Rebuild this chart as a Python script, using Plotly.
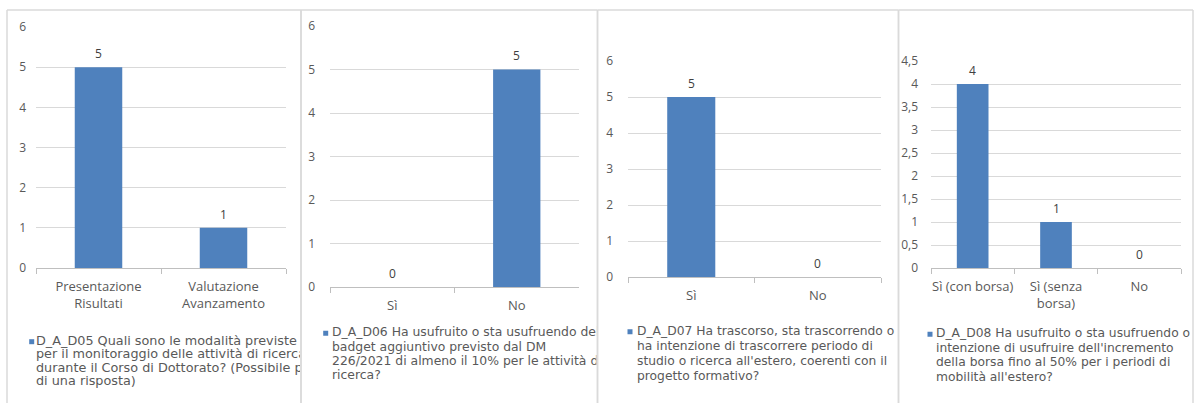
import plotly.graph_objects as go

# ---------------- data ----------------
cats1 = ["Presentazione<br>Risultati", "Valutazione<br>Avanzamento"]
vals1 = [5, 1]
cats2 = ["Sì", "No"]
vals2 = [0, 5]
cats3 = ["Sì", "No"]
vals3 = [5, 0]
cats4 = ["Sì (con borsa)", "Sì (senza<br>borsa)", "No"]
vals4 = [4, 1, 0]

yticks_int = [0, 1, 2, 3, 4, 5, 6]
yticks_int_text = ["0", "1", "2", "3", "4", "5", "6"]
yticks_half = [0, 0.5, 1, 1.5, 2, 2.5, 3, 3.5, 4, 4.5]
yticks_half_text = ["0", "0,5", "1", "1,5", "2", "2,5", "3", "3,5", "4", "4,5"]

series1 = ["D_A_D05 Quali sono le modalità previste",
           "per il monitoraggio delle attività di ricerca",
           "durante il Corso di Dottorato? (Possibile più",
           "di una risposta)"]
series2 = ["D_A_D06 Ha usufruito o sta usufruendo del",
           "badget aggiuntivo previsto dal DM",
           "226/2021 di almeno il 10% per le attività di",
           "ricerca?"]
series3 = ["D_A_D07 Ha trascorso, sta trascorrendo o",
           "ha intenzione di trascorrere periodo di",
           "studio o ricerca all'estero, coerenti con il",
           "progetto formativo?"]
series4 = ["D_A_D08 Ha usufruito o sta usufruendo o",
           "intenzione di usufruire dell'incremento",
           "della borsa fino al 50% per i periodi di",
           "mobilità all'estero?"]

# ---------------- layout (pixels) ----------------
W, H = 1195, 403
BLUE = "#4F81BD"
FONT = "Open Sans"
LFONT = "DejaVu Sans"
GRID = "#D9D9D9"
AXIS = "#BFBFBF"
TXT = "#595959"
LBL = "#404040"
BORDER = "#DADADA"

panels = [
    dict(cats=cats1, vals=vals1, tv=yticks_int, tt=yticks_int_text, ymax=6, series=series1,
         x0=36, x1=286, ytop=27, ybot=268, left=7, right=301, mx=31.7, tx=36,
         ly=[341.7, 355.2, 368.6, 382], ystand=9, lfs=12.8),
    dict(cats=cats2, vals=vals2, tv=yticks_int, tt=yticks_int_text, ymax=6, series=series2,
         x0=330, x1=579, ytop=26, ybot=287, left=301, right=597.5, mx=325.7, tx=332,
         ly=[333.3, 347.7, 361.7, 376], ystand=14, lfs=12.4),
    dict(cats=cats3, vals=vals3, tv=yticks_int, tt=yticks_int_text, ymax=6, series=series3,
         x0=628, x1=881, ytop=61, ybot=277, left=597.5, right=898.5, mx=630, tx=637,
         ly=[331.7, 346.7, 361.7, 376.7], ystand=14, lfs=12.3),
    dict(cats=cats4, vals=vals4, tv=yticks_half, tt=yticks_half_text, ymax=4.5, series=series4,
         x0=931, x1=1181, ytop=61, ybot=268, left=898.5, right=1193, mx=930, tx=936,
         ly=[334.3, 349.3, 363.3, 378.3], ystand=12, lfs=12.3),
]


def fx(x):
    return x / W


def fy(y):
    return 1 - y / H


fig = go.Figure()
annotations = []
shapes = []
layout = {}

for i, p in enumerate(panels):
    n = i + 1
    xa = "x" if n == 1 else f"x{n}"
    ya = "y" if n == 1 else f"y{n}"
    fig.add_trace(go.Bar(x=p["cats"], y=p["vals"], xaxis=xa, yaxis=ya,
                         marker=dict(color=BLUE, line=dict(width=0)), width=0.38,
                         showlegend=False, hoverinfo="skip"))
    ncat = len(p["cats"])
    layout[f"xaxis{'' if n == 1 else n}"] = dict(
        domain=[fx(p["x0"]), fx(p["x1"])], anchor=ya, type="category",
        range=[-0.5, ncat - 0.5], showline=True, linecolor=AXIS, linewidth=1,
        ticks="outside", tickson="boundaries", ticklen=5, tickcolor=AXIS,
        showgrid=False, tickfont=dict(family=FONT, size=13, color=TXT),
        tickangle=0, automargin=False, ticklabelstandoff=6, fixedrange=True)
    layout[f"yaxis{'' if n == 1 else n}"] = dict(
        domain=[fy(p["ybot"]), fy(p["ytop"])], anchor=xa, range=[0, p["ymax"]],
        tickvals=p["tv"], ticktext=p["tt"], showgrid=True, gridcolor=GRID, gridwidth=1,
        zeroline=False, showline=False, ticks="", ticklabelstandoff=p["ystand"],
        automargin=False, tickfont=dict(family=FONT, size=12, color=TXT), fixedrange=True)
    for c, v in zip(p["cats"], p["vals"]):
        annotations.append(dict(x=c, y=v, xref=xa, yref=ya, text=str(v), showarrow=False,
                                yanchor="bottom", yshift=3,
                                font=dict(family=FONT, size=12, color=LBL)))

    # legend area (clipped at the panel border)
    m = n + 4
    lx = f"x{m}"
    lyax = f"y{m}"
    top_px, bot_px = 318, 403
    layout[f"xaxis{m}"] = dict(domain=[fx(p["left"] + 1), fx(p["right"] - 1)], anchor=lyax,
                               range=[p["left"] + 1, p["right"] - 1], visible=False,
                               automargin=False, fixedrange=True)
    layout[f"yaxis{m}"] = dict(domain=[fy(bot_px), fy(top_px)], anchor=lx,
                               range=[bot_px, top_px], visible=False,
                               automargin=False, fixedrange=True)
    fig.add_trace(go.Scatter(x=[p["tx"]] * len(p["series"]), y=p["ly"], mode="text",
                             text=p["series"], textposition="middle right",
                             textfont=dict(family=LFONT, size=p["lfs"], color=TXT),
                             cliponaxis=True, xaxis=lx, yaxis=lyax,
                             showlegend=False, hoverinfo="skip"))
    fig.add_trace(go.Scatter(x=[p["mx"]], y=[p["ly"][0]], mode="markers",
                             marker=dict(symbol="square", size=5, color=BLUE),
                             xaxis=lx, yaxis=lyax, showlegend=False, hoverinfo="skip"))

    # panel border (left, top, right)
    for (a, b, c, d) in [(p["left"], p["left"], H, 10), (p["left"], p["right"], 10, 10),
                         (p["right"], p["right"], H, 10)]:
        shapes.append(dict(type="line", xref="paper", yref="paper", x0=fx(a), x1=fx(b),
                           y0=fy(c), y1=fy(d), line=dict(color=BORDER, width=1.5), layer="above"))

fig.update_layout(width=W, height=H, margin=dict(l=0, r=0, t=0, b=0, pad=0),
                  paper_bgcolor="white", plot_bgcolor="rgba(0,0,0,0)",
                  annotations=annotations, shapes=shapes, bargap=0.6,
                  font=dict(family=FONT), **layout)

fig.write_html("out.html", config={"displayModeBar": False},
               post_script="document.body.style.margin='0';")
